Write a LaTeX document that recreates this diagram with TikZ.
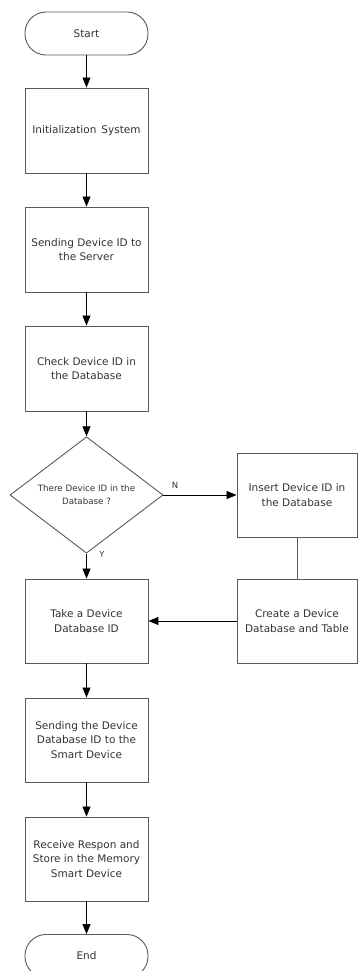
\documentclass[tikz,border=0pt]{standalone}
\usepackage{fontspec}
\setmainfont{DejaVu Sans}
\usetikzlibrary{arrows.meta,shapes.geometric,positioning}

\begin{document}
\begin{tikzpicture}[x=1pt, y=-1pt,
  box/.style={draw=black!65, line width=0.9pt, minimum width=123pt, minimum height=85pt,
    inner sep=2pt, align=center, text=black!80, font=\fontsize{10.5}{14.7}\selectfont},
  term/.style={box, minimum height=43pt, rounded corners=21pt},
  decision/.style={diamond, draw=black!65, line width=0.9pt, minimum width=153pt, minimum height=100pt,
    inner sep=0pt, align=center, text=black!80, font=\fontsize{8.7}{12.5}\selectfont},
  flow/.style={-{Triangle[length=10pt, width=8pt]}, line width=0.8pt, black},
  lab/.style={text=black!80, font=\fontsize{8.5}{10}\selectfont}]
  % Dimensions (in pixels of the reference)
  \def\cx{86.5}    % centre of the main column
  \def\rx{297}     % centre of the right column

  \useasboundingbox (0,0) rectangle (358,971);

  % Main column
  \node[term] (start) at (\cx,33.5) {Start};
  \node[box] (init) at (\cx,130.5) {Initialization\, System};
  \node[box] (sendid) at (\cx,249.5) {Sending Device ID to\\the Server};
  \node[box] (check) at (\cx,368.5) {Check Device ID in\\the Database};
  \node[decision] (found) at (\cx,495) {There Device ID in the\\Database ?};
  \node[box, minimum height=84pt] (take) at (\cx,621) {Take a Device\\Database ID};
  \node[box, minimum height=84pt] (senddb) at (\cx,740) {Sending the Device\\Database ID to the\\Smart Device};
  \node[box, minimum height=84pt] (receive) at (\cx,859) {Receive Respon and\\Store in the Memory\\Smart Device};
  \node[term] (end) at (\cx,956) {End};

  % Right column
  \node[box, minimum width=120pt, minimum height=84pt] (insert) at (\rx,495) {Insert Device ID in\\the Database};
  \node[box, minimum width=120pt, minimum height=84pt] (create) at (\rx,621) {Create a Device\\Database and Table};

  % Connectors
  \draw[flow] (start) -- (init);
  \draw[flow] (init) -- (sendid);
  \draw[flow] (sendid) -- (check);
  \draw[flow] (check) -- (found);
  \draw[flow] (found.east) -- (insert.west);
  \draw[flow] (found.south) -- (take.north);
  \draw[draw=black!65, line width=0.9pt] (insert) -- (create);
  \draw[flow] (create.west) -- (take.east);
  \draw[flow] (take) -- (senddb);
  \draw[flow] (senddb) -- (receive);
  \draw[flow] (receive) -- (end);

  % Branch labels
  \node[lab] (nlab) at (175,485) {N};
  \node[lab] (ylab) at (102,554) {Y};
\end{tikzpicture}
\end{document}
